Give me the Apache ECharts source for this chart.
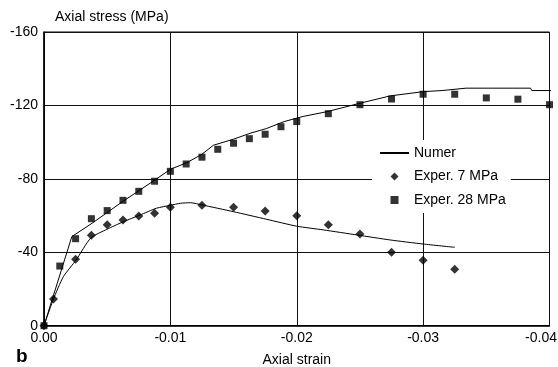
<!DOCTYPE html>
<html>
<head>
<meta charset="utf-8">
<script src="https://cdn.jsdelivr.net/npm/echarts@6/dist/echarts.min.js"></script>
<style>
  html, body { margin: 0; padding: 0; background: #fff; }
  #chart { width: 558px; height: 367px; }
</style>
</head>
<body>
<div id="chart"></div>
<script>
// Numerical stress-strain response (two confining pressures)
const numerStrain28 = [0, -0.0022, -0.0038, -0.0063, -0.0087, -0.01, -0.0113, -0.0125, -0.0134, -0.015, -0.0163, -0.0176, -0.019, -0.0205, -0.0224, -0.025, -0.0274, -0.03, -0.0315, -0.0334, -0.0385, -0.0386, -0.0404];
const numerStress28 = [0, -48.5, -55.8, -68.0, -79.0, -85.2, -88.8, -93.4, -98.3, -101.6, -104.8, -107.4, -111.2, -114.0, -116.6, -121.2, -125.2, -127.5, -128.1, -129.4, -129.4, -128.1, -128.1];

const numerStrain7 = [0, -0.00074, -0.00153, -0.00254, -0.0037, -0.00497, -0.0063, -0.0076, -0.0089, -0.01, -0.0108, -0.0116, -0.0125, -0.015, -0.0176, -0.02, -0.0221, -0.0248, -0.0274, -0.03, -0.0325];
const numerStress7 = [0, -14.4, -26.7, -35.8, -47.8, -52.5, -56.7, -60.3, -64.0, -65.6, -66.7, -67.0, -65.8, -62.1, -58.0, -54.2, -52.2, -49.4, -46.7, -44.5, -42.7];

// Experimental points
const exp7Strain = [0, -0.00075, -0.0025, -0.00375, -0.005, -0.00625, -0.0075, -0.00875, -0.01, -0.0125, -0.015, -0.0175, -0.02, -0.0225, -0.025, -0.0275, -0.03, -0.0325];
const exp7Stress = [0, -14.6, -36.2, -49.3, -55.0, -57.6, -59.8, -61.3, -64.5, -65.6, -64.5, -62.5, -59.9, -55.0, -50.0, -40.0, -35.6, -30.7];

const exp28Strain = [0, -0.00125, -0.0025, -0.00375, -0.005, -0.00625, -0.0075, -0.00875, -0.01, -0.01125, -0.0125, -0.01375, -0.015, -0.01625, -0.0175, -0.01875, -0.02, -0.0225, -0.025, -0.0275, -0.03, -0.0325, -0.035, -0.0375, -0.04];
const exp28Stress = [0, -32.5, -47.4, -58.3, -62.7, -68.3, -73.2, -78.7, -84.1, -88.1, -91.8, -96.1, -99.4, -101.9, -104.3, -108.4, -111.2, -115.5, -120.4, -123.5, -126.1, -126.1, -124.1, -123.4, -120.4];

const seriesNames = ['Numer', 'Exper. 7 MPa', 'Exper. 28 MPa'];
const xTitle = 'Axial strain';
const yTitle = 'Axial stress (MPa)';
const panelTag = 'b';

const zip = (xs, ys) => xs.map((x, i) => [x, ys[i]]);
const FONT = 'Liberation Sans, Arial, Helvetica, sans-serif';

const chart = echarts.init(document.getElementById('chart'), null, { renderer: 'canvas' });

chart.setOption({
  animation: false,
  backgroundColor: '#fff',
  textStyle: { fontFamily: FONT, color: '#000' },
  grid: {
    left: 44, top: 32, right: 8.5, bottom: 41.3,
    outerBoundsMode: 'none', containLabel: false,
    show: true, borderColor: '#000', borderWidth: 1
  },
  xAxis: {
    type: 'value', min: -0.04, max: 0, interval: 0.01, inverse: true,
    name: xTitle, nameLocation: 'middle', nameGap: 27,
    nameTextStyle: { fontSize: 14, color: '#000', fontFamily: FONT },
    axisLine: { show: true, lineStyle: { color: '#000', width: 1.5 } },
    axisTick: { show: false },
    axisLabel: {
      color: '#000', fontSize: 14, fontFamily: FONT, margin: 5,
      formatter: v => Math.abs(v + 0.04) < 1e-9 ? '{e|-0.04}' : (Math.abs(v) < 1e-12 ? '0.00' : v.toFixed(2)),
      rich: { e: { fontSize: 14, fontFamily: FONT, color: '#000', padding: [0, 17, 0, 0] } }
    },
    splitLine: { show: true, lineStyle: { color: '#111', width: 1 } }
  },
  yAxis: {
    type: 'value', min: -160, max: 0, interval: 40, inverse: true,
    name: yTitle, nameLocation: 'start', nameGap: 8,
    nameTextStyle: { fontSize: 14, color: '#000', fontFamily: FONT, align: 'left', padding: [0, 0, 0, 11] },
    axisLine: { show: true, lineStyle: { color: '#000', width: 1.5 } },
    axisTick: { show: false },
    axisLabel: { color: '#000', fontSize: 14, fontFamily: FONT, margin: 6 },
    splitLine: { show: true, lineStyle: { color: '#111', width: 1 } }
  },
  legend: {
    orient: 'vertical', left: 372, top: 140,
    padding: [6, 5, 6, 7],
    backgroundColor: '#fff',
    itemWidth: 29, itemHeight: 8, itemGap: 9.5,
    textStyle: { fontSize: 14, color: '#000', fontFamily: FONT },
    data: [
      { name: seriesNames[0], itemStyle: { opacity: 0 } },
      { name: seriesNames[1], icon: 'path://M5,0L10,5L5,10L0,5Z' },
      { name: seriesNames[2], icon: 'path://M0,0L10,0L10,10L0,10Z' }
    ]
  },
  graphic: [{
    type: 'text', left: 16, top: 347,
    style: { text: panelTag, font: 'bold 19px ' + FONT, fill: '#000' }
  }],
  series: [
    {
      name: seriesNames[0], type: 'line', data: zip(numerStrain28, numerStress28),
      symbol: 'none', clip: false, lineStyle: { color: '#000', width: 1 }, itemStyle: { color: '#000' }
    },
    {
      name: seriesNames[0], type: 'line', data: zip(numerStrain7, numerStress7),
      symbol: 'none', smooth: 0.2, lineStyle: { color: '#000', width: 1 }, itemStyle: { color: '#000' }
    },
    {
      name: seriesNames[1], type: 'scatter', data: zip(exp7Strain, exp7Stress),
      symbol: 'diamond', symbolSize: 9, itemStyle: { color: '#000' }, z: 3
    },
    {
      name: seriesNames[2], type: 'scatter', data: zip(exp28Strain, exp28Stress),
      symbol: 'rect', symbolSize: 7, itemStyle: { color: '#000' }, z: 3
    }
  ]
});
</script>
</body>
</html>
